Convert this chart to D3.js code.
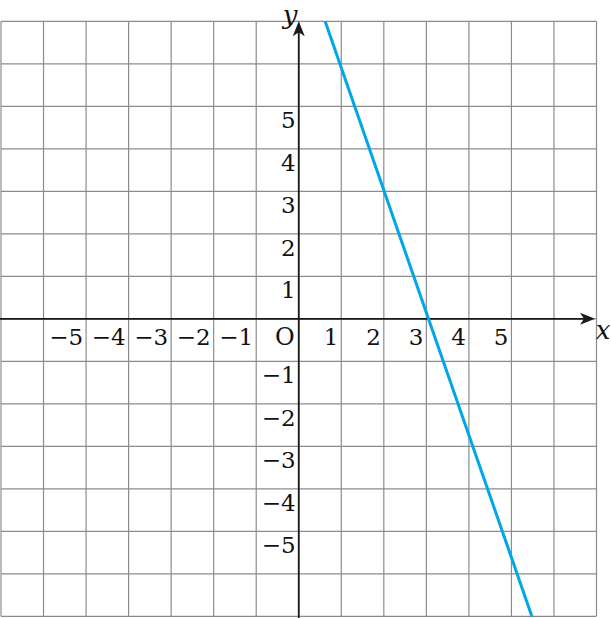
<!DOCTYPE html>
<html>
<head>
<meta charset="utf-8">
<script src="https://cdn.jsdelivr.net/npm/d3@7"></script>
<style>
  html, body { margin: 0; padding: 0; background: #fff; }
  svg { display: block; }
</style>
</head>
<body>
<svg id="chart" width="611" height="618"></svg>
<script>
// Data
const gridValues = [-7, -6, -5, -4, -3, -2, -1, 0, 1, 2, 3, 4, 5, 6, 7];
const xTickValues = [-5, -4, -3, -2, -1, 1, 2, 3, 4, 5];
const yTickValues = [5, 4, 3, 2, 1, -1, -2, -3, -4, -5];
const lineX = [0.62, 5.48];
const lineY = [7, -7];

const FONT = "DejaVu Serif";
const svg = d3.select("#chart").attr("font-family", FONT);
const x = d3.scaleLinear().domain([-7, 7]).range([1, 596.5]);
const y = d3.scaleLinear().domain([-7, 7]).range([616.3, 21.3]);

const fmt = v => (v < 0 ? "\u2212" + Math.abs(v) : String(v));

// grid
const g = svg.append("g").attr("stroke", "#8c8c8c").attr("stroke-width", 1.2);
g.selectAll("line.v").data(gridValues).join("line")
  .attr("class", "v")
  .attr("x1", d => x(d)).attr("x2", d => x(d))
  .attr("y1", y(7)).attr("y2", y(-7));
g.selectAll("line.h").data(gridValues).join("line")
  .attr("class", "h")
  .attr("y1", d => y(d)).attr("y2", d => y(d))
  .attr("x1", x(-7)).attr("x2", x(7));

// axes
const axisColor = "#1a1a1a";
svg.append("line")
  .attr("x1", 0).attr("x2", x(7) - 8)
  .attr("y1", y(0)).attr("y2", y(0))
  .attr("stroke", axisColor).attr("stroke-width", 1.8);
svg.append("line")
  .attr("x1", x(0)).attr("x2", x(0))
  .attr("y1", 618).attr("y2", y(7) + 8)
  .attr("stroke", axisColor).attr("stroke-width", 1.8);

// arrowheads
const tipX = x(7) - 1.5, ay = y(0);
svg.append("path")
  .attr("d", `M${tipX},${ay} L${tipX - 15},${ay - 6} L${tipX - 11},${ay} L${tipX - 15},${ay + 6} Z`)
  .attr("fill", axisColor);
const tipY = y(7), ax = x(0);
svg.append("path")
  .attr("d", `M${ax},${tipY} L${ax - 6},${tipY + 15} L${ax},${tipY + 11} L${ax + 6},${tipY + 15} Z`)
  .attr("fill", axisColor);

// tick labels
svg.append("g").selectAll("text").data(xTickValues).join("text")
  .attr("x", d => x(d) - 3)
  .attr("y", y(0) + 26)
  .attr("text-anchor", "end")
  .attr("font-size", 23)
  .attr("fill", "#111")
  .text(fmt);
svg.append("g").selectAll("text").data(yTickValues).join("text")
  .attr("x", x(0) - 3)
  .attr("y", d => y(d) + 22)
  .attr("text-anchor", "end")
  .attr("font-size", 23)
  .attr("fill", "#111")
  .text(fmt);
svg.append("text")
  .attr("x", x(0) - 4).attr("y", y(0) + 26)
  .attr("text-anchor", "end").attr("font-size", 24).attr("fill", "#111")
  .text("O");
svg.append("text")
  .attr("x", 603).attr("y", y(0) + 20)
  .attr("text-anchor", "middle").attr("font-size", 26).attr("font-style", "italic").attr("fill", "#111")
  .text("x");
svg.append("text")
  .attr("x", 290).attr("y", 24)
  .attr("text-anchor", "middle").attr("font-size", 26).attr("font-style", "italic").attr("fill", "#111")
  .text("y");

// the line
svg.append("line")
  .attr("x1", x(lineX[0])).attr("y1", y(lineY[0]))
  .attr("x2", x(lineX[1])).attr("y2", y(lineY[1]))
  .attr("stroke", "#00a6e6").attr("stroke-width", 3);
</script>
</body>
</html>
